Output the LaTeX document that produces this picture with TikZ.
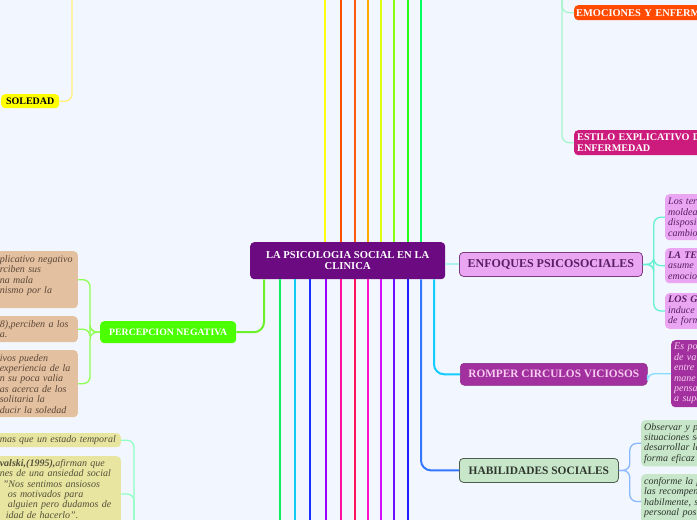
\documentclass[tikz,border=0pt]{standalone}
\usepackage{fontspec}
\setmainfont{Liberation Serif}
\usetikzlibrary{positioning,calc}
\definecolor{mbg}{HTML}{F2F6FE}
\definecolor{cpurple}{HTML}{6C0A82}
\definecolor{enfill}{HTML}{EBA6F3}
\definecolor{endraw}{HTML}{7A3A82}
\definecolor{entext}{HTML}{5A1E64}
\definecolor{rcfill}{HTML}{A3309F}
\definecolor{rctext}{HTML}{F6CDEF}
\definecolor{hsfill}{HTML}{C8E6C9}
\definecolor{hsdraw}{HTML}{4E5E4E}
\definecolor{hstext}{HTML}{2E362E}
\definecolor{pngreen}{HTML}{4CFF00}
\definecolor{soyellow}{HTML}{FFFF00}
\definecolor{emred}{HTML}{FF4A00}
\definecolor{esmag}{HTML}{CC1B7C}
\definecolor{tanfill}{HTML}{E3C0A0}
\definecolor{tantext}{HTML}{5C4838}
\definecolor{khfill}{HTML}{E8E5A1}
\definecolor{khtext}{HTML}{55503A}
\definecolor{u1c}{HTML}{FFFF10}
\definecolor{u2c}{HTML}{FF5000}
\definecolor{u3c}{HTML}{FF5A10}
\definecolor{u4c}{HTML}{FFAA00}
\definecolor{u5c}{HTML}{DDFF10}
\definecolor{u6c}{HTML}{88FF10}
\definecolor{u7c}{HTML}{22FF10}
\definecolor{u8c}{HTML}{00FF60}
\definecolor{d1c}{HTML}{10EE60}
\definecolor{d2c}{HTML}{10CCF0}
\definecolor{d3c}{HTML}{1A30FF}
\definecolor{d4c}{HTML}{9A00FF}
\definecolor{d5c}{HTML}{FF10A0}
\definecolor{d6c}{HTML}{FF1060}
\definecolor{d7c}{HTML}{FF10CC}
\definecolor{d8c}{HTML}{D410FF}
\definecolor{d9c}{HTML}{6A10FF}
\definecolor{d10c}{HTML}{2020FF}
\definecolor{hsline}{HTML}{3377FF}
\definecolor{rcline}{HTML}{10CCFF}
\definecolor{pnline}{HTML}{6CF02A}
\definecolor{enline}{HTML}{B0F2F2}
\definecolor{sosub}{HTML}{FFF07A}
\definecolor{pnsub}{HTML}{8CFF50}
\definecolor{kbsub}{HTML}{90FFC4}
\definecolor{trsub}{HTML}{A4F5CC}
\definecolor{ensub}{HTML}{66F0D4}
\definecolor{rcsub}{HTML}{88DDFF}
\definecolor{hssub}{HTML}{8AB8FF}
\tikzset{
  topic/.style={rounded corners=4pt,inner sep=3pt,align=center,font=\bfseries\fontsize{9.8}{10.5}\selectfont},
  note/.style={rounded corners=4pt,inner sep=3pt,align=left,font=\itshape\fontsize{10}{10.4}\selectfont},
  br/.style={line width=2pt,draw=#1},
  sub/.style={line width=1.3pt,draw=#1,rounded corners=7pt},
}
\begin{document}
\begin{tikzpicture}[x=1pt,y=-1pt]
  \useasboundingbox (0,0) rectangle (697,520);
  \fill[mbg] (0,0) rectangle (697,520);
  \clip (0,0) rectangle (697,520);

  \node[topic,anchor=north west,fill=cpurple,text=white,minimum width=195,minimum height=37,font=\bfseries\fontsize{10.6}{11.5}\selectfont] (ctr) at (250,242) {LA PSICOLOGIA SOCIAL EN LA\\CLINICA};
  \node[topic,anchor=north west,fill=enfill,draw=endraw,text=entext,line width=0.8pt,minimum width=183,minimum height=24,font=\bfseries\fontsize{12}{13}\selectfont] (enf) at (459,252) {ENFOQUES PSICOSOCIALES};
  \node[topic,anchor=north west,fill=rcfill,draw=rcfill!80!black,text=rctext,line width=0.5pt,minimum width=187,minimum height=22,font=\bfseries\fontsize{11.3}{12}\selectfont] (rom) at (460,363) {ROMPER CIRCULOS VICIOSOS};
  \node[topic,anchor=north west,fill=hsfill,draw=hsdraw,text=hstext,line width=0.8pt,minimum width=159,minimum height=24,font=\bfseries\fontsize{11.4}{12}\selectfont] (hab) at (459,458) {HABILIDADES SOCIALES};
  \node[topic,anchor=north west,fill=pngreen,text=white,minimum width=136,minimum height=22] (pn) at (100,321) {PERCEPCION NEGATIVA};
  \node[topic,anchor=north west,fill=soyellow,text=black,minimum width=58,minimum height=14,inner sep=1.5pt,font=\bfseries\fontsize{10}{10.5}\selectfont] (sol) at (1,94) {SOLEDAD};
  \node[topic,anchor=north west,fill=emred,text=white,align=left,text width=180,minimum height=15,inner sep=2pt,font=\bfseries\fontsize{10.4}{10.5}\selectfont] (emo) at (574,5) {EMOCIONES Y ENFERMEDAD};
  \node[topic,anchor=north west,fill=esmag,text=white,align=left,text width=180,minimum height=25,inner sep=3pt,font=\bfseries\fontsize{10.2}{10.5}\selectfont] (est) at (574,130) {ESTILO EXPLICATIVO DE LA\\ENFERMEDAD};

  \node[note,anchor=north east,fill=tanfill,text=tantext,text width=75,minimum height=57] (p1) at (78,251) {plicativo negativo\\rciben sus\\na mala\\nismo por la\\\mbox{}};
  \node[note,anchor=north east,fill=tanfill,text=tantext,text width=75,minimum height=26] (p2) at (78,316) {8),perciben a los\\a.};
  \node[note,anchor=north east,fill=tanfill,text=tantext,text width=75,minimum height=67] (p3) at (78,350) {ivos pueden\\experiencia de la\\n su poca valia\\as acerca de los\\solitaria la\\ducir la soledad};
  \node[note,anchor=north east,fill=khfill,text=khtext,text width=118,minimum height=14,inner ysep=2pt] (k1) at (121,433) {mas que un estado temporal};
  \node[note,anchor=north east,fill=khfill,text=khtext,text width=118] (k2) at (121,456) {\textbf{valski,(1995),}afirman que\\nes de una ansiedad social\\\hspace*{3pt}"Nos sentimos ansiosos\\\hspace*{8pt}os motivados para\\\hspace*{8pt}alguien pero dudamos de\\\hspace*{6pt}idad de hacerlo".\\\mbox{}};

  \node[note,anchor=north west,fill=enfill,text=entext,text width=90,minimum height=46] (na) at (665,194) {Los ter\\moldeac\\disposit\\cambio};
  \node[note,anchor=north west,fill=enfill,text=entext,text width=90,minimum height=35] (nb) at (665,248) {\textbf{LA TE}\\asume\\emocio};
  \node[note,anchor=north west,fill=enfill,text=entext,text width=90,minimum height=35] (nc) at (665,293) {\textbf{LOS G}\\induce\\de form};
  \node[note,anchor=north west,fill=rcfill,text=rctext,text width=90,minimum height=67] (ra) at (671,340) {Es po\\de va\\entre\\mane\\pensa\\a supe};
  \node[note,anchor=north west,fill=hsfill,text=hstext,text width=120,minimum height=46] (ha) at (641,420) {Observar y p\\situaciones so\\desarrollar la\\forma eficaz};
  \node[note,anchor=north west,fill=hsfill,text=hstext,text width=120] (hb) at (641,474) {conforme la p\\las recompen\\habilmente, s\\personal pos\\\mbox{}};

  \coordinate (u1) at (325,-5);
  \coordinate (u2) at (341,-5);
  \coordinate (u3) at (355,-5);
  \coordinate (u4) at (368,-5);
  \coordinate (u5) at (381,-5);
  \coordinate (u6) at (394,-5);
  \coordinate (u7) at (408,-5);
  \coordinate (u8) at (421,-5);
  \coordinate (d1) at (280,525);
  \coordinate (d2) at (295,525);
  \coordinate (d3) at (310,525);
  \coordinate (d4) at (326,525);
  \coordinate (d5) at (341,525);
  \coordinate (d6) at (355,525);
  \coordinate (d7) at (368,525);
  \coordinate (d8) at (381,525);
  \coordinate (d9) at (394,525);
  \coordinate (d10) at (408,525);
  \coordinate (d11) at (421,400);
  \coordinate (d12) at (434,300);
  \coordinate (d0) at (264,300);
  \coordinate (ts) at (72,-30);
  \coordinate (tr) at (562,-30);
  \coordinate (kb) at (134,560);

  \draw[br=u1c] (ctr.north -| u1) -- (u1);
  \draw[br=u2c] (ctr.north -| u2) -- (u2);
  \draw[br=u3c] (ctr.north -| u3) -- (u3);
  \draw[br=u4c] (ctr.north -| u4) -- (u4);
  \draw[br=u5c] (ctr.north -| u5) -- (u5);
  \draw[br=u6c] (ctr.north -| u6) -- (u6);
  \draw[br=u7c] (ctr.north -| u7) -- (u7);
  \draw[br=u8c] (ctr.north -| u8) -- (u8);
  \draw[br=d1c] (ctr.south -| d1) -- (d1);
  \draw[br=d2c] (ctr.south -| d2) -- (d2);
  \draw[br=d3c] (ctr.south -| d3) -- (d3);
  \draw[br=d4c] (ctr.south -| d4) -- (d4);
  \draw[br=d5c] (ctr.south -| d5) -- (d5);
  \draw[br=d6c] (ctr.south -| d6) -- (d6);
  \draw[br=d7c] (ctr.south -| d7) -- (d7);
  \draw[br=d8c] (ctr.south -| d8) -- (d8);
  \draw[br=d9c] (ctr.south -| d9) -- (d9);
  \draw[br=d10c] (ctr.south -| d10) -- (d10);
  \draw[br=hsline,rounded corners=10pt] (ctr.south -| d11) |- (hab.west);
  \draw[br=rcline,rounded corners=10pt] (ctr.south -| d12) |- (rom.west);
  \draw[br=pnline,rounded corners=10pt] (ctr.south -| d0) |- (pn.east);
  \draw[br=enline] (ctr.east |- enf.west) -- (enf.west);

  \draw[sub=sosub] (ts) |- (sol.east);
  \draw[sub=trsub] (tr) |- (emo.west);
  \draw[sub=trsub] (tr) |- (est.west);
  \draw[sub=pnsub] (pn.west) -- ++(-10,0) |- (p1.east);
  \draw[sub=pnsub] (pn.west) -- ++(-10,0) |- (p2.east);
  \draw[sub=pnsub] (pn.west) -- ++(-10,0) |- (p3.east);
  \draw[sub=kbsub] (kb) |- (k1.east);
  \draw[sub=kbsub] (kb) |- (k2.east);
  \draw[sub=ensub] (enf.east) -- ++(11,0) |- (na.west);
  \draw[sub=ensub] (enf.east) -- ++(11,0) |- (nb.west);
  \draw[sub=ensub] (enf.east) -- ++(11,0) |- (nc.west);
  \draw[sub=rcsub] (rom.east) -- (ra.west -| rom.east) -- (ra.west);
  \draw[sub=hssub] (hab.east) -- ++(11,0) |- (ha.west);
  \draw[sub=hssub] (hab.east) -- ++(11,0) |- (hb.west);
\end{tikzpicture}
\end{document}
